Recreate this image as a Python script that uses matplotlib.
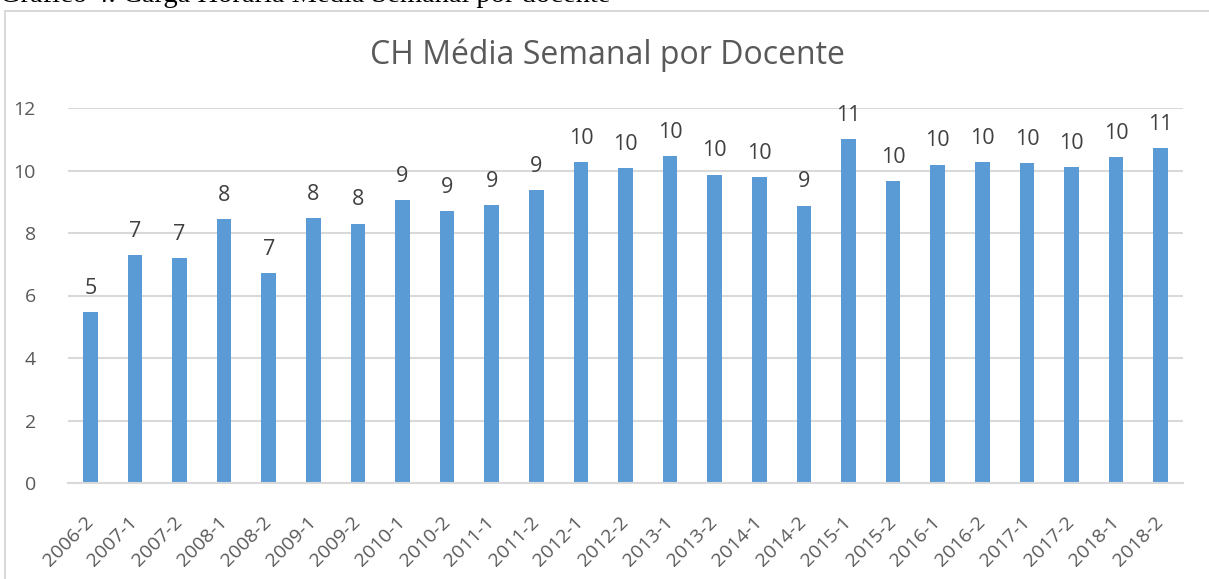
import matplotlib
matplotlib.use("Agg")
import matplotlib.pyplot as plt
import matplotlib.patches as mpatches

# ── Data ─────────────────────────────────────────────────────────────
semesters = ["2006-2", "2007-1", "2007-2", "2008-1", "2008-2", "2009-1",
             "2009-2", "2010-1", "2010-2", "2011-1", "2011-2", "2012-1",
             "2012-2", "2013-1", "2013-2", "2014-1", "2014-2", "2015-1",
             "2015-2", "2016-1", "2016-2", "2017-1", "2017-2", "2018-1",
             "2018-2"]
ch_media = [5.48, 7.30, 7.19, 8.44, 6.71, 8.48, 8.30, 9.05, 8.70, 8.90,
            9.37, 10.28, 10.07, 10.45, 9.87, 9.78, 8.88, 11.00, 9.66,
            10.19, 10.27, 10.23, 10.10, 10.44, 10.72]
y_ticks = [0, 2, 4, 6, 8, 10, 12]

# ── Palette ──────────────────────────────────────────────────────────
BAR = "#5B9BD5"
GRID = "#D9D9D9"
TEXT = "#595959"
LABEL = "#404040"
FONT = "Open Sans"

W, H, DPI = 1209, 579, 100
fig = plt.figure(figsize=(W / DPI, H / DPI), dpi=DPI, facecolor="white")

# chart frame (cut off at right and bottom)
frame = mpatches.Rectangle((4.5 / W, -0.2), 1.2, 1.2 - 10.5 / H,
                           transform=fig.transFigure, fill=False,
                           edgecolor=GRID, linewidth=1.5)
fig.patches.append(frame)

# caption above the chart, mostly cut off by the top edge
fig.text(0.0, 1 - 2 / H, "Gráfico 4. Carga Horária Média Semanal por docente",
         family="Liberation Serif", fontsize=20.5, color="black",
         ha="left", va="baseline")

ax = fig.add_axes([68 / W, (H - 483) / H, (1183 - 68) / W, (483 - 108) / H])
x = list(range(len(semesters)))
bars = ax.bar(x, ch_media, width=0.325, color=BAR, zorder=2)

for xi, v in zip(x, ch_media):
    ax.annotate(f"{v:.0f}", (xi, v), xytext=(0, 9.5), textcoords="offset points",
                ha="center", va="bottom", fontsize=15.5, color=LABEL,
                family=FONT)

ax.set_xlim(-0.5, len(semesters) - 0.5)
ax.set_ylim(0, 12)
ax.set_yticks(y_ticks)
ax.set_xticks(x)
ax.set_xticklabels(semesters, rotation=45, ha="right", va="center",
                   rotation_mode="anchor", fontsize=14,
                   color=TEXT, family=FONT)
for lbl in ax.get_yticklabels():
    lbl.set_fontsize(14)
    lbl.set_color(TEXT)
    lbl.set_family(FONT)
ax.tick_params(axis="both", length=0)
ax.tick_params(axis="y", pad=23)
ax.tick_params(axis="x", pad=26)
ax.yaxis.grid(True, color=GRID, linewidth=1.5, zorder=0)
ax.set_axisbelow(True)
for s in ["top", "right", "left"]:
    ax.spines[s].set_visible(False)
ax.spines["bottom"].set_color(GRID)
ax.spines["bottom"].set_linewidth(1.5)

fig.text(607 / W, 1 - 55 / H, "CH Média Semanal por Docente",
         family=FONT, fontsize=23, color=TEXT, ha="center", va="center")

fig.savefig("out.png", dpi=DPI, facecolor="white")
